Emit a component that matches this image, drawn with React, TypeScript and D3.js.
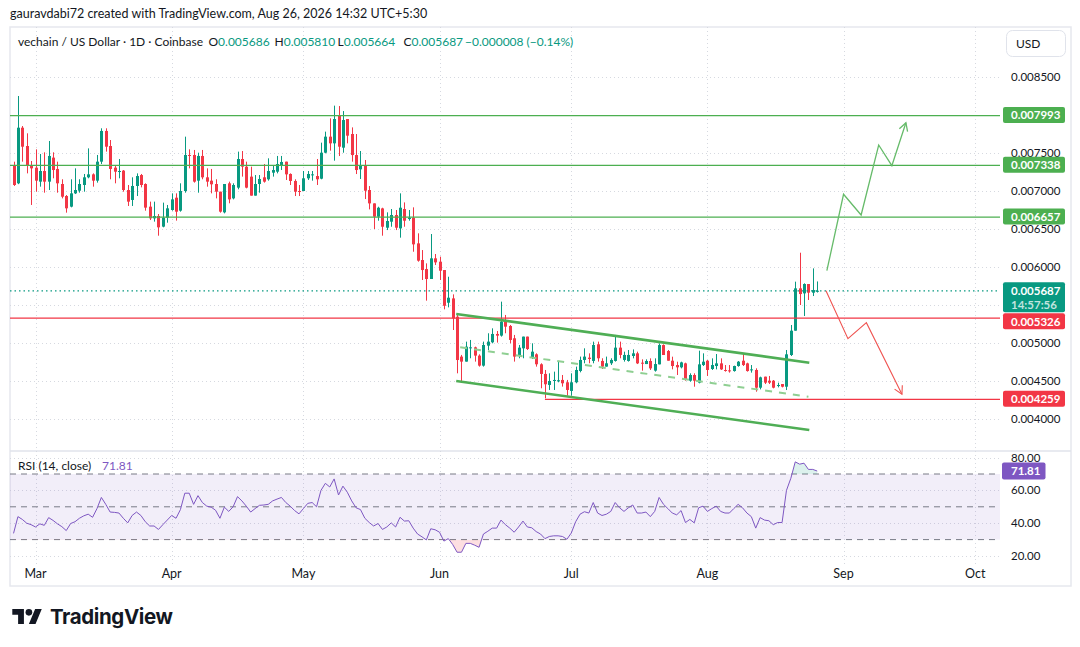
import React from 'react';
import * as d3 from 'd3';

// ---------- DATA ----------
const firstCandleUtc = Date.UTC(2026, 1, 24); // Feb 24, 2026
const monthStartUtc = Date.UTC(2026, 2, 1); // Mar 1, 2026

const opens = [
  0.007342, 0.007101, 0.007833, 0.007592, 0.007342, 0.007307, 0.007123, 0.007263, 0.007123, 0.007439,
  0.007290, 0.007092, 0.006934, 0.006794, 0.006969, 0.007004, 0.007079, 0.007180, 0.007219, 0.007136,
  0.007386, 0.007790, 0.007592, 0.007307, 0.007254, 0.007268, 0.007013, 0.006882, 0.007066, 0.007210,
  0.007092, 0.006794, 0.006640, 0.006671, 0.006531, 0.006649, 0.006750, 0.006912, 0.006741, 0.007000,
  0.007474, 0.007474, 0.007136, 0.007461, 0.007180, 0.007136, 0.007092, 0.006991, 0.006719, 0.007101,
  0.006903, 0.007044, 0.007421, 0.007320, 0.007189, 0.006939, 0.007092, 0.007180, 0.007154, 0.007241,
  0.007254, 0.007342, 0.007386, 0.007224, 0.007132, 0.007000, 0.007000, 0.007167, 0.007210, 0.007197,
  0.007162, 0.007504, 0.007715, 0.007627, 0.007987, 0.007570, 0.007947, 0.007750, 0.007473, 0.007285,
  0.007342, 0.007013, 0.006837, 0.006662, 0.006771, 0.006517, 0.006596, 0.006684, 0.006508, 0.006763,
  0.006631, 0.006649, 0.006311, 0.006092, 0.005973, 0.005842, 0.006114, 0.006070, 0.005960, 0.005530,
  0.005587, 0.005346, 0.004821, 0.004755, 0.004930, 0.004943, 0.004834, 0.004702, 0.004965, 0.005009,
  0.005119, 0.005097, 0.005281, 0.005224, 0.005062, 0.004834, 0.004930, 0.005084, 0.004807, 0.004851,
  0.004720, 0.004593, 0.004448, 0.004500, 0.004495, 0.004514, 0.004483, 0.004369, 0.004483, 0.004632,
  0.004777, 0.004807, 0.004764, 0.004983, 0.004764, 0.004689, 0.004733, 0.004764, 0.004939, 0.004777,
  0.004764, 0.004829, 0.004864, 0.004741, 0.004723, 0.004763, 0.004636, 0.004719, 0.004973, 0.004895,
  0.004767, 0.004710, 0.004680, 0.004732, 0.004504, 0.004579, 0.004478, 0.004710, 0.004767, 0.004658,
  0.004697, 0.004732, 0.004645, 0.004640, 0.004631, 0.004697, 0.004767, 0.004732, 0.004645, 0.004645,
  0.004412, 0.004557, 0.004504, 0.004504, 0.004434, 0.004460, 0.004425, 0.004842, 0.005162, 0.005719,
  0.005653, 0.005776, 0.005662, 0.005686,
];
const highs = [
  0.007386, 0.008250, 0.007855, 0.007759, 0.007395, 0.007548, 0.007487, 0.007509, 0.007658, 0.007509,
  0.007386, 0.007154, 0.006947, 0.007154, 0.007298, 0.007154, 0.007224, 0.007561, 0.007232, 0.007474,
  0.007825, 0.007825, 0.007671, 0.007342, 0.007421, 0.007276, 0.007079, 0.007180, 0.007232, 0.007224,
  0.007101, 0.006860, 0.006860, 0.006697, 0.006847, 0.006816, 0.006969, 0.006969, 0.007101, 0.007715,
  0.007548, 0.007540, 0.007504, 0.007540, 0.007298, 0.007290, 0.007154, 0.006991, 0.007092, 0.007123,
  0.007101, 0.007518, 0.007526, 0.007386, 0.007320, 0.007210, 0.007210, 0.007355, 0.007430, 0.007342,
  0.007461, 0.007461, 0.007386, 0.007232, 0.007154, 0.007079, 0.007263, 0.007263, 0.007263, 0.007421,
  0.007636, 0.007781, 0.007956, 0.008123, 0.008118, 0.008052, 0.007947, 0.007837, 0.007750, 0.007526,
  0.007408, 0.007065, 0.006837, 0.006793, 0.006780, 0.006719, 0.006763, 0.006750, 0.006969, 0.006850,
  0.006750, 0.006785, 0.006443, 0.006223, 0.006048, 0.006434, 0.006171, 0.006136, 0.005960, 0.005872,
  0.005640, 0.005390, 0.004843, 0.005018, 0.005040, 0.004952, 0.004851, 0.005018, 0.005128, 0.005193,
  0.005158, 0.005544, 0.005369, 0.005237, 0.005106, 0.004974, 0.005084, 0.005084, 0.004996, 0.004864,
  0.004733, 0.004645, 0.004601, 0.004623, 0.004755, 0.004579, 0.004514, 0.004601, 0.004689, 0.004821,
  0.004930, 0.004864, 0.005018, 0.005018, 0.004799, 0.004821, 0.004799, 0.005106, 0.005018, 0.004886,
  0.004908, 0.004916, 0.004886, 0.004785, 0.004785, 0.004798, 0.004798, 0.004995, 0.004982, 0.004908,
  0.004820, 0.004754, 0.004754, 0.004741, 0.004601, 0.004601, 0.004899, 0.004864, 0.004776, 0.004798,
  0.004855, 0.004798, 0.004710, 0.004710, 0.004702, 0.004763, 0.004864, 0.004741, 0.004710, 0.004667,
  0.004557, 0.004557, 0.004566, 0.004513, 0.004478, 0.004460, 0.004908, 0.005237, 0.005807, 0.006188,
  0.005785, 0.005776, 0.005982, 0.005810,
];
const lows = [
  0.007066, 0.007090, 0.007386, 0.007232, 0.006816, 0.006991, 0.007057, 0.006978, 0.007013, 0.007167,
  0.006978, 0.006903, 0.006715, 0.006785, 0.006960, 0.006978, 0.006991, 0.007167, 0.007057, 0.007110,
  0.007355, 0.007518, 0.007154, 0.007101, 0.007167, 0.006991, 0.006803, 0.006803, 0.006934, 0.007048,
  0.006741, 0.006618, 0.006597, 0.006412, 0.006522, 0.006583, 0.006741, 0.006610, 0.006728, 0.006978,
  0.007298, 0.007110, 0.006978, 0.007154, 0.007057, 0.006969, 0.006903, 0.006715, 0.006706, 0.006838,
  0.006890, 0.007022, 0.007189, 0.007035, 0.006939, 0.006939, 0.006978, 0.007110, 0.007136, 0.007189,
  0.007232, 0.007276, 0.007145, 0.007079, 0.006934, 0.006934, 0.007000, 0.007145, 0.007136, 0.007079,
  0.007154, 0.007496, 0.007531, 0.007399, 0.007460, 0.007504, 0.007627, 0.007386, 0.007223, 0.007158,
  0.006894, 0.006758, 0.006500, 0.006609, 0.006412, 0.006486, 0.006530, 0.006486, 0.006386, 0.006530,
  0.006609, 0.006201, 0.006070, 0.005829, 0.005557, 0.005842, 0.006026, 0.005829, 0.005443, 0.005469,
  0.005171, 0.004601, 0.004483, 0.004755, 0.004799, 0.004755, 0.004689, 0.004689, 0.004908, 0.004996,
  0.005005, 0.005084, 0.005128, 0.004996, 0.004755, 0.004799, 0.004799, 0.004908, 0.004790, 0.004689,
  0.004404, 0.004272, 0.004382, 0.004382, 0.004483, 0.004426, 0.004307, 0.004307, 0.004470, 0.004614,
  0.004733, 0.004733, 0.004733, 0.004755, 0.004658, 0.004689, 0.004711, 0.004755, 0.004799, 0.004755,
  0.004755, 0.004798, 0.004723, 0.004636, 0.004723, 0.004645, 0.004623, 0.004719, 0.004842, 0.004767,
  0.004653, 0.004579, 0.004666, 0.004504, 0.004491, 0.004425, 0.004469, 0.004697, 0.004566, 0.004645,
  0.004653, 0.004645, 0.004623, 0.004610, 0.004623, 0.004688, 0.004697, 0.004623, 0.004610, 0.004359,
  0.004390, 0.004460, 0.004460, 0.004403, 0.004416, 0.004416, 0.004381, 0.004829, 0.005162, 0.005500,
  0.005355, 0.005566, 0.005618, 0.005664,
];
const closes = [
  0.007079, 0.007833, 0.007583, 0.007342, 0.007298, 0.007136, 0.007263, 0.007123, 0.007461, 0.007276,
  0.007101, 0.006925, 0.006772, 0.006969, 0.007013, 0.007092, 0.007180, 0.007219, 0.007136, 0.007386,
  0.007790, 0.007583, 0.007290, 0.007254, 0.007263, 0.007013, 0.006860, 0.007066, 0.007197, 0.007079,
  0.006781, 0.006640, 0.006671, 0.006522, 0.006649, 0.006772, 0.006890, 0.006728, 0.007000, 0.007474,
  0.007461, 0.007123, 0.007461, 0.007180, 0.007123, 0.007088, 0.006991, 0.006728, 0.007092, 0.006890,
  0.007079, 0.007421, 0.007320, 0.007044, 0.006939, 0.007092, 0.007158, 0.007123, 0.007263, 0.007276,
  0.007355, 0.007382, 0.007219, 0.007132, 0.006991, 0.006991, 0.007167, 0.007224, 0.007219, 0.007154,
  0.007504, 0.007715, 0.007627, 0.007947, 0.007583, 0.007934, 0.007728, 0.007473, 0.007276, 0.007342,
  0.007004, 0.006837, 0.006662, 0.006780, 0.006530, 0.006605, 0.006684, 0.006517, 0.006780, 0.006609,
  0.006649, 0.006298, 0.006083, 0.005960, 0.005842, 0.006114, 0.006061, 0.005951, 0.005490, 0.005596,
  0.005324, 0.004776, 0.004755, 0.004952, 0.004943, 0.004834, 0.004702, 0.004974, 0.005018, 0.005119,
  0.005097, 0.005281, 0.005215, 0.005040, 0.004821, 0.004939, 0.005084, 0.004921, 0.004886, 0.004720,
  0.004593, 0.004457, 0.004500, 0.004514, 0.004510, 0.004470, 0.004382, 0.004483, 0.004645, 0.004777,
  0.004821, 0.004790, 0.004974, 0.004799, 0.004689, 0.004733, 0.004777, 0.004939, 0.004843, 0.004843,
  0.004843, 0.004864, 0.004732, 0.004732, 0.004763, 0.004666, 0.004723, 0.004973, 0.004842, 0.004767,
  0.004697, 0.004680, 0.004745, 0.004513, 0.004579, 0.004504, 0.004719, 0.004754, 0.004645, 0.004710,
  0.004732, 0.004653, 0.004636, 0.004632, 0.004697, 0.004754, 0.004710, 0.004631, 0.004653, 0.004412,
  0.004548, 0.004478, 0.004478, 0.004412, 0.004447, 0.004425, 0.004851, 0.005162, 0.005719, 0.005644,
  0.005776, 0.005662, 0.005697, 0.005687,
];
const rsiValues = [
  33.8, 44.0, 42.3, 40.0, 39.1, 37.7, 39.6, 38.7, 43.4, 41.7,
  39.6, 37.9, 35.5, 39.8, 40.9, 43.0, 44.5, 45.5, 43.6, 48.9,
  55.7, 51.5, 46.8, 46.6, 46.2, 43.0, 40.2, 44.7, 46.8, 44.7,
  40.9, 38.3, 38.3, 36.2, 39.1, 41.9, 44.7, 43.0, 48.3, 58.3,
  58.3, 51.5, 56.8, 52.6, 50.4, 49.8, 47.9, 43.0, 49.8, 47.2,
  50.0, 56.2, 53.6, 50.4, 46.8, 48.9, 50.9, 51.1, 51.5, 53.6,
  54.7, 55.7, 52.6, 50.4, 47.7, 45.7, 48.9, 52.1, 52.6, 50.0,
  60.0, 64.3, 62.1, 67.0, 57.2, 62.6, 58.9, 53.6, 49.4, 48.3,
  43.0, 40.4, 38.3, 39.8, 36.2, 37.7, 40.2, 37.7, 43.6, 41.3,
  41.5, 37.0, 33.4, 31.7, 29.8, 36.6, 36.0, 34.5, 29.1, 30.6,
  27.0, 22.3, 22.3, 27.7, 27.7, 26.6, 25.3, 33.4, 35.1, 37.0,
  37.0, 41.9, 39.1, 37.0, 34.5, 37.7, 41.3, 37.7, 37.2, 34.9,
  33.4, 30.6, 31.9, 32.3, 32.3, 31.9, 30.2, 34.0, 40.9, 45.5,
  47.0, 46.2, 52.6, 46.2, 44.7, 45.5, 47.2, 52.6, 49.4, 47.2,
  49.4, 51.1, 46.2, 46.2, 46.8, 44.0, 47.2, 55.7, 51.5, 48.9,
  46.2, 45.1, 47.7, 40.4, 42.3, 40.2, 49.4, 50.4, 47.2, 48.9,
  50.4, 47.2, 46.2, 46.2, 48.9, 51.5, 49.4, 46.2, 44.0, 37.0,
  43.4, 41.9, 41.5, 39.1, 40.4, 40.4, 60.0, 67.4, 77.4, 76.0,
  76.6, 72.8, 72.8, 71.81,
];

const priceTicks = [0.004, 0.0045, 0.005, 0.0055, 0.006, 0.0065, 0.007, 0.0075, 0.008, 0.0085];
const rsiTicks = [20, 40, 60, 80];
const rsiBandLines = [30, 50, 70];
const monthLabels = ['Mar', 'Apr', 'May', 'Jun', 'Jul', 'Aug', 'Sep', 'Oct'];

const greenLevels = [0.007993, 0.007338, 0.006657];
const redLevels = [0.005326, 0.004259];
const redLevelStartDay = [-6, 116]; // day offset from Mar 1 where each red line starts
const lastPrice = 0.005687;
const countdown = '14:57:56';
const rsiLast = 71.81;

// drawings (day offset from Mar 1, price)
const channelUpper: [number, number][] = [[95.8, 0.005382], [176.2, 0.004741]];
const channelLower: [number, number][] = [[95.8, 0.0045], [176.2, 0.003855]];
const channelMid: [number, number][] = [[96.7, 0.004943], [176.0, 0.004293]];
const bullPath: [number, number][] = [[180.2, 0.005951], [184.0, 0.006957], [188.0, 0.006684], [192.0, 0.007605], [195.0, 0.007333], [198.2, 0.007899]];
const bearPath: [number, number][] = [[180.0, 0.005688], [185.0, 0.005057], [189.2, 0.005267], [197.3, 0.004325]];

// ---------- STYLE ----------
const FONT = "Lato, 'Open Sans', Roboto, sans-serif";
const UP = '#089981';
const DOWN = '#f23645';
const GREEN_LINE = '#4caf50';
const TEXT = '#131722';
const GRID = '#d6d9e0';

const W = 1080;
const H = 647;
const PLOT_L = 10;
const PLOT_R = 1000;
const PANE_TOP = 27;
const PANE_SPLIT = 451;
const RSI_BOTTOM = 565;
const FRAME_R = 1071;
const FRAME_B = 586;

const DAY = 86400000;
const dayDate = (d: number) => new Date(monthStartUtc + d * DAY);

export default function App() {
  const x = d3.scaleUtc().domain([new Date(monthStartUtc), new Date(Date.UTC(2026, 9, 1))]).range([35.5, 975.3]);
  const y = d3.scaleLinear().domain([0.004, 0.0085]).range([419, 77]);
  const ry = d3.scaleLinear().domain([20, 80]).range([556, 457.6]);

  const dates = opens.map((_, i) => new Date(firstCandleUtc + i * DAY));
  const months = d3.utcMonth.range(new Date(monthStartUtc), new Date(Date.UTC(2026, 9, 2)));

  const fmt6 = d3.format('.6f');

  const lineGen = d3.line<[number, number]>().x((p) => x(dayDate(p[0]))).y((p) => y(p[1]));
  const rsiLine = d3.line<number>().x((_, i) => x(dates[i])).y((v) => ry(v));
  const rsiAreaTop = d3.area<number>().x((_, i) => x(dates[i])).y0(ry(70)).y1((v) => ry(v));
  const rsiAreaBot = d3.area<number>().x((_, i) => x(dates[i])).y0(ry(30)).y1((v) => ry(v));

  const arrowHead = (pts: [number, number][]) => {
    const a = pts[pts.length - 2];
    const b = pts[pts.length - 1];
    const x1 = x(dayDate(a[0])), y1 = y(a[1]);
    const x2 = x(dayDate(b[0])), y2 = y(b[1]);
    const ang = Math.atan2(y2 - y1, x2 - x1);
    const len = 9;
    const l1 = [x2 - len * Math.cos(ang - 0.5), y2 - len * Math.sin(ang - 0.5)];
    const l2 = [x2 - len * Math.cos(ang + 0.5), y2 - len * Math.sin(ang + 0.5)];
    return `M${l1[0]},${l1[1]}L${x2},${y2}L${l2[0]},${l2[1]}`;
  };

  // axis labels with simple collision avoidance
  type Lab = { price: number; color: string; text: string; sub?: string; top: number; h: number };
  const labs: Lab[] = [
    ...greenLevels.map((p) => ({ price: p, color: '#4caf50', text: fmt6(p), top: 0, h: 16 })),
    ...redLevels.map((p) => ({ price: p, color: DOWN, text: fmt6(p), top: 0, h: 16 })),
    { price: lastPrice, color: UP, text: fmt6(lastPrice), sub: countdown, top: 0, h: 30 },
  ];
  labs.forEach((l) => (l.top = y(l.price) - 8.5));
  labs.sort((a, b) => a.top - b.top);
  for (let i = 1; i < labs.length; i++) {
    const prevBottom = labs[i - 1].top + labs[i - 1].h;
    if (labs[i].top < prevBottom + 1) labs[i].top = prevBottom + 1;
  }
  // tick labels hidden behind a label box (as the reference does)
  const visibleTicks = priceTicks.filter((t) => {
    const ty = y(t);
    return !labs.some((l) => ty > l.top - 3 && ty < l.top + l.h + 3);
  });

  const candleW = 3;

  return (
    <div style={{ position: 'fixed', left: 0, top: 0, width: W, height: H, background: '#fff' }}>
      <svg width={W} height={H} viewBox={`0 0 ${W} ${H}`} style={{ display: 'block', fontFamily: FONT }}>
        <defs>
          <clipPath id="plotClip">
            <rect x={PLOT_L} y={PANE_TOP} width={PLOT_R - PLOT_L} height={PANE_SPLIT - PANE_TOP} />
          </clipPath>
          <clipPath id="obClip">
            <rect x={PLOT_L} y={PANE_SPLIT} width={PLOT_R - PLOT_L} height={ry(70) - PANE_SPLIT} />
          </clipPath>
          <clipPath id="osClip">
            <rect x={PLOT_L} y={ry(30)} width={PLOT_R - PLOT_L} height={RSI_BOTTOM - ry(30)} />
          </clipPath>
        </defs>
        <rect width={W} height={H} fill="#fff" />

        {/* header */}
        <text x={10} y={18} fontSize={12.5} fill={TEXT}>
          gauravdabi72 created with TradingView.com, Aug 26, 2026 14:32 UTC+5:30
        </text>

        {/* frame */}
        <rect x={PLOT_L} y={PANE_TOP} width={FRAME_R - PLOT_L} height={FRAME_B - PANE_TOP} fill="none" stroke="#e6e8ee" strokeWidth={1.5} />
        <line x1={PLOT_L} x2={FRAME_R} y1={PANE_SPLIT} y2={PANE_SPLIT} stroke="#e0e3eb" strokeWidth={1.5} />

        {/* grid */}
        {priceTicks.map((t) => (
          <line key={'pg' + t} x1={PLOT_L} x2={PLOT_R} y1={Math.round(y(t)) + 0.5} y2={Math.round(y(t)) + 0.5} stroke={GRID} strokeDasharray="1 3" />
        ))}
        {rsiTicks.map((t) => (
          <line key={'rg' + t} x1={PLOT_L} x2={PLOT_R} y1={Math.round(ry(t)) + 0.5} y2={Math.round(ry(t)) + 0.5} stroke={GRID} strokeDasharray="1 3" />
        ))}
        {months.map((m) => (
          <line key={'vg' + m.getTime()} x1={Math.round(x(m)) + 0.5} x2={Math.round(x(m)) + 0.5} y1={PANE_TOP} y2={RSI_BOTTOM} stroke={GRID} strokeDasharray="1 3" />
        ))}

        {/* price pane */}
        <g clipPath="url(#plotClip)">
          {/* candles */}
          {dates.map((dt, i) => {
            const cx = Math.round(x(dt)) + 0.5;
            const o = opens[i], c = closes[i];
            const col = c >= o ? UP : DOWN;
            const top = y(Math.max(o, c));
            const bot = y(Math.min(o, c));
            return (
              <g key={'c' + i}>
                <line x1={cx} x2={cx} y1={y(highs[i])} y2={y(lows[i])} stroke={col} strokeWidth={1} />
                <rect x={cx - candleW / 2} y={top} width={candleW} height={Math.max(1, bot - top)} fill={col} />
              </g>
            );
          })}

          {/* level lines */}
          {greenLevels.map((p) => (
            <line key={'gl' + p} x1={PLOT_L} x2={1003} y1={y(p)} y2={y(p)} stroke={GREEN_LINE} strokeWidth={1.2} />
          ))}
          {redLevels.map((p, i) => (
            <line key={'rl' + p} x1={x(dayDate(redLevelStartDay[i]))} x2={1003} y1={y(p)} y2={y(p)} stroke={DOWN} strokeWidth={1.2} />
          ))}
          <line x1={PLOT_L} x2={PLOT_R} y1={y(lastPrice)} y2={y(lastPrice)} stroke={UP} strokeWidth={1.2} strokeDasharray="1.5 3" />

          {/* channel */}
          <path d={lineGen(channelUpper) || ''} stroke="#4fae55" strokeWidth={2.6} fill="none" />
          <path d={lineGen(channelLower) || ''} stroke="#4fae55" strokeWidth={2.6} fill="none" />
          <path d={lineGen(channelMid) || ''} stroke="#8fcf92" strokeWidth={2} strokeDasharray="7 7" fill="none" />

          {/* projections */}
          <path d={lineGen(bullPath) || ''} stroke="#66bb6a" strokeWidth={1.3} fill="none" />
          <path d={arrowHead(bullPath)} stroke="#66bb6a" strokeWidth={1.3} fill="none" />
          <path d={lineGen(bearPath) || ''} stroke="#ef5350" strokeWidth={1.1} fill="none" />
          <path d={arrowHead(bearPath)} stroke="#ef5350" strokeWidth={1.1} fill="none" />
        </g>

        {/* RSI pane */}
        <rect x={PLOT_L} y={ry(70)} width={PLOT_R - PLOT_L} height={ry(30) - ry(70)} fill="rgba(126,87,194,0.1)" />
        {rsiBandLines.map((v) => (
          <line key={'rb' + v} x1={PLOT_L} x2={PLOT_R} y1={ry(v)} y2={ry(v)} stroke="#787b86" strokeWidth={1} strokeDasharray="6 5" />
        ))}
        <path d={rsiAreaTop(rsiValues) || ''} fill="rgba(8,153,129,0.14)" clipPath="url(#obClip)" />
        <path d={rsiAreaBot(rsiValues) || ''} fill="rgba(242,54,69,0.16)" clipPath="url(#osClip)" />
        <path d={rsiLine(rsiValues) || ''} stroke="#7e57c2" strokeWidth={1} fill="none" />

        {/* legend */}
        <text y={46} fontSize={12} fill={TEXT}>
          <tspan x={18}>vechain / US Dollar · 1D · Coinbase</tspan>
          <tspan x={208.5}>O</tspan><tspan fill={UP}>0.005686</tspan>
          <tspan x={274.5}>H</tspan><tspan fill={UP}>0.005810</tspan>
          <tspan x={337.5}>L</tspan><tspan fill={UP}>0.005664</tspan>
          <tspan x={403.5}>C</tspan><tspan fill={UP}>0.005687</tspan>
          <tspan x={465} fill={UP}>−0.000008 (−0.14%)</tspan>
        </text>
        <text y={470} fontSize={12} fill={TEXT}>
          <tspan x={18}>RSI (14, close)</tspan>
          <tspan x={102} fill="#7e57c2">{rsiLast.toFixed(2)}</tspan>
        </text>

        {/* USD button */}
        <rect x={1006.5} y={30.5} width={59} height={26} rx={6} fill="#fff" stroke="#e0e3eb" />
        <text x={1016} y={48} fontSize={12} fill={TEXT}>USD</text>

        {/* price axis */}
        {visibleTicks.map((t) => (
          <text key={'pt' + t} x={1011} y={y(t) + 4} fontSize={11.5} fill={TEXT}>{fmt6(t)}</text>
        ))}
        {labs.map((l) => (
          <g key={'lab' + l.price}>
            <rect x={1003} y={l.top} width={62} height={l.h} rx={2} fill={l.color} />
            <text x={1011} y={l.top + 12.3} fontSize={11.5} fontWeight={700} fill="#fff">{l.text}</text>
            {l.sub && (
              <text x={1011} y={l.top + 26.5} fontSize={11.5} fontWeight={700} fill="rgba(255,255,255,0.75)">{l.sub}</text>
            )}
          </g>
        ))}

        {/* RSI axis */}
        {rsiTicks.map((t) => (
          <text key={'rt' + t} x={1011} y={ry(t) + 4} fontSize={11.5} fill={TEXT}>{t.toFixed(2)}</text>
        ))}
        <rect x={1002} y={ry(rsiLast) - 8.5} width={43.5} height={17} rx={2} fill="#7e57c2" />
        <text x={1011} y={ry(rsiLast) + 4} fontSize={11.5} fontWeight={700} fill="#fff">{rsiLast.toFixed(2)}</text>

        {/* time axis */}
        {months.map((m, i) => (
          <text key={'tl' + i} x={x(m)} y={578} fontSize={12.5} fill={TEXT} textAnchor="middle">{monthLabels[i]}</text>
        ))}

        {/* logo */}
        <g transform="translate(12.3,605.7) scale(0.83)" fill="#131722">
          <path d="M14 22H7V11H0V4h14v18zM28 22h-8l7.5-18h8L28 22z" />
          <circle cx={20} cy={8} r={4} />
        </g>
        <text x={50} y={624} fontSize={20.5} fontWeight={700} fill="#131722" style={{ fontFamily: "Inter, Roboto, sans-serif" }} letterSpacing={-0.4}>TradingView</text>
      </svg>
    </div>
  );
}
